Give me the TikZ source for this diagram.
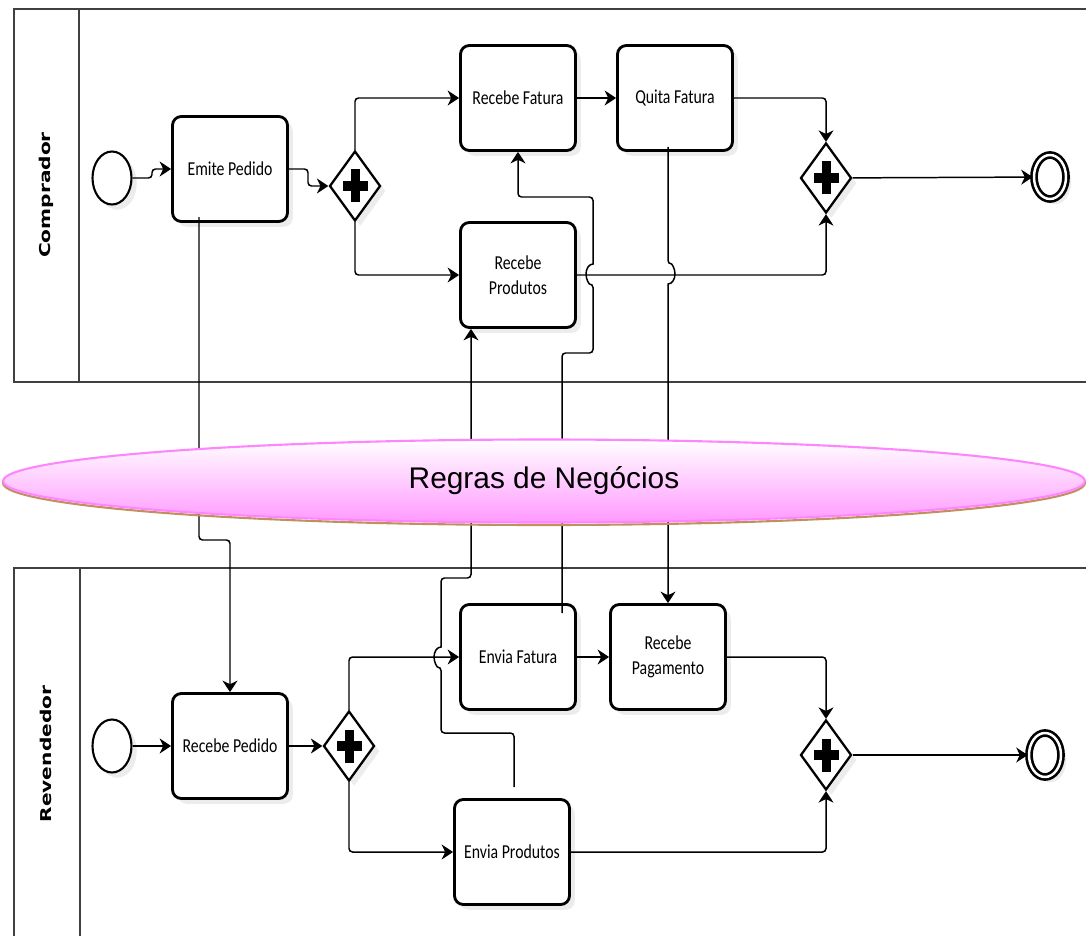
\documentclass[tikz,border=0pt]{standalone}
\usepackage{fontspec}
\setmainfont{Carlito}
\newfontfamily\lanefont{DejaVu Sans}
\newfontfamily\notefont{Liberation Sans}
\usetikzlibrary{shapes.geometric,arrows.meta,shadows}

\definecolor{notepink}{HTML}{FF99FF}
\definecolor{noteedge}{HTML}{FF85FF}
\definecolor{notebrown}{HTML}{C0905E}
\newcommand{\tall}[1]{\scalebox{1}[1.25]{#1}}

\begin{document}
\begin{tikzpicture}[x=0.02cm,y=-0.02cm,
    task/.style={draw,line width=1.6pt,rounded corners=5pt,fill=white,
      minimum width=2.3cm,minimum height=2.1cm,inner sep=0pt,align=center,
      font=\fontsize{9}{14}\selectfont,
      drop shadow={opacity=0.15,shadow xshift=3pt,shadow yshift=-3pt}},
    gate/.style={draw,diamond,line width=1.3pt,fill=white,
      minimum width=1.02cm,minimum height=1.4cm,inner sep=0pt,
      drop shadow={opacity=0.15,shadow xshift=3pt,shadow yshift=-3pt}},
    startev/.style={draw,ellipse,line width=1.2pt,fill=white,
      minimum width=0.78cm,minimum height=1.06cm,inner sep=0pt,
      drop shadow={opacity=0.15,shadow xshift=3pt,shadow yshift=-3pt}},
    endev/.style={startev,double,line width=1.5pt,double distance=1.4pt,
      minimum width=0.64cm,minimum height=0.88cm},
    flow/.style={line width=0.85pt,rounded corners=2pt,
      -{Stealth[length=6.5pt,width=8.5pt,inset=2pt]}},
    lane/.style={draw=black!75,line width=0.9pt}]
  \useasboundingbox (0,0) rectangle (1086,936);

  % lanes
  \draw[lane] (1086,9) -- (14,9) -- (14,382) -- (1086,382) (79,9) -- (79,382);
  \draw[lane] (1086,568) -- (14,568) -- (14,936) (80,568) -- (80,936);
  \node[rotate=90,font=\lanefont\bfseries\fontsize{8.5}{10}\selectfont] (18) at (46,195) {\scalebox{1.35}[1]{Comprador}};
  \node[rotate=90,font=\lanefont\bfseries\fontsize{8.5}{10}\selectfont] (19) at (46,754) {\scalebox{1.35}[1]{Revendedor}};

  % Comprador
  \node[startev] (1) at (112,178) {};
  \node[task] (2) at (230,169) {\tall{Emite Pedido}};
  \node[gate] (3) at (355,186) {};
  \node[task] (4) at (518,98) {\tall{Recebe Fatura}};
  \node[task] (5) at (675,98) {\tall{Quita Fatura}};
  \node[task] (6) at (518,275) {\tall{Recebe}\\\tall{Produtos}};
  \node[gate] (7) at (826,178) {};
  \node[endev] (8) at (1050,177) {};

  % Revendedor
  \node[startev] (9) at (112,746) {};
  \node[task] (10) at (230,746) {\tall{Recebe Pedido}};
  \node[gate] (11) at (349,746) {};
  \node[task] (12) at (518,657) {\tall{Envia Fatura}};
  \node[task] (13) at (668,657) {\tall{Recebe}\\\tall{Pagamento}};
  \node[task] (14) at (512,852) {\tall{Envia Produtos}};
  \node[gate] (15) at (826,755) {};
  \node[endev] (16) at (1045,755) {};

  \foreach \g in {3,7,11,15} {
    \fill (\g.center) +(-12.5,-5) rectangle +(12.5,5);
    \fill (\g.center) +(-4.5,-16.5) rectangle +(4.5,16.5);
  }

  \draw[flow] (1.east) -- (152,178) -- (152,169) -- (2);
  \draw[flow] (2.east) -- (308,169) -- (308,186) -- (3);
  \draw[flow] (3.north) |- (4);
  \draw[flow] (3.south) |- (6);
  \draw[flow] (4) -- (5);
  \draw[flow] (5.east) -| (7.north);
  \draw[flow] (6.east) -| (7.south);
  \draw[flow] (7) -- (8);

  \draw[flow] (9) -- (10);
  \draw[flow] (10) -- (11);
  \draw[flow] (11.north) |- (12);
  \draw[flow] (11.south) |- (14);
  \draw[flow] (12) -- (13);
  \draw[flow] (13.east) -| (15.north);
  \draw[flow] (14.east) -| (15.south);
  \draw[flow] (15) -- (16);

  % messages between the lanes
  \coordinate (m1) at (199,217);
  \coordinate (m2) at (514,787);
  \coordinate (m3) at (562,613);
  \coordinate (m4) at (668,147);
  \coordinate (m5) at (471,578);
  \draw[flow] (m1) -- (199,540) -- (230,540) -- (10);
  \draw[flow] (m2) -- (514,733) -- (441,733) -- (441,667) [sharp corners]
    arc[start angle=90,end angle=270,x radius=7,y radius=10] [rounded corners=2pt]
    -- (441,578) -- (m5) -- (6.south -| m5);
  \draw[flow] (m3) -- (562,353) -- (593,353) -- (593,284) [sharp corners]
    arc[start angle=90,end angle=270,x radius=7,y radius=10] [rounded corners=2pt]
    -- (593,197) -- (518,197) -- (4);
  \draw[flow] (m4) -- (668,264) [sharp corners]
    arc[start angle=-90,end angle=90,x radius=7,y radius=10] -- (13);

  % business rules
  \draw[notebrown,line width=1.2pt] (544,483) ellipse[x radius=541,y radius=42];
  \node[ellipse,draw=noteedge,line width=1.2pt,top color=white,bottom color=notepink,
    minimum width=21.64cm,minimum height=1.66cm,inner sep=0pt,
    font=\notefont\fontsize{17}{20}\selectfont] (17) at (544,481) {Regras de Negócios};
\end{tikzpicture}
\end{document}
